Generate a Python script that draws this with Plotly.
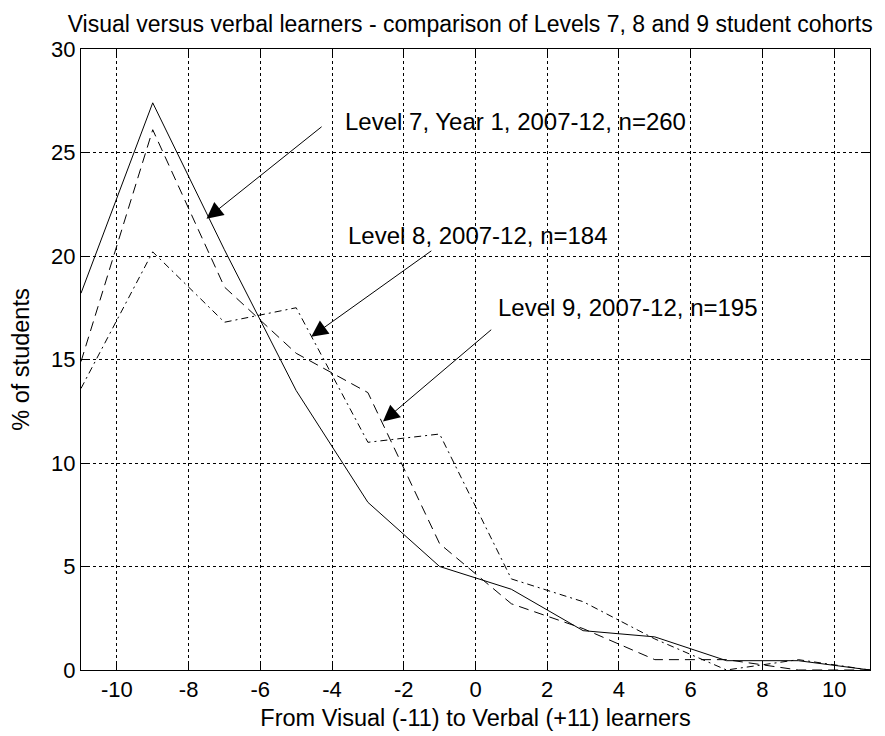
import plotly.graph_objects as go

# learning style score (odd bins) and % of students per cohort
scores = [-11, -9, -7, -5, -3, -1, 1, 3, 5, 7, 9, 11]
level7 = [18.2, 27.4, 20.3, 13.5, 8.1, 5.0, 3.9, 1.9, 1.6, 0.45, 0.45, 0.0]
level8 = [14.9, 26.1, 18.5, 15.3, 13.4, 6.1, 3.2, 2.0, 0.5, 0.5, 0.0, 0.0]
level9 = [13.6, 20.2, 16.8, 17.5, 11.0, 11.4, 4.4, 3.3, 1.5, 0.0, 0.5, 0.0]

x_ticks = [-10, -8, -6, -4, -2, 0, 2, 4, 6, 8, 10]
x_ticktext = ["-10", "-8", "-6", "-4", "-2", "0", "2", "4", "6", "8", "10"]
y_ticks = [0, 5, 10, 15, 20, 25, 30]

labels = [
    "Level 7, Year 1, 2007-12, n=260",
    "Level 8, 2007-12, n=184",
    "Level 9, 2007-12, n=195",
]

FONT = "Liberation Sans, Arial, sans-serif"

fig = go.Figure()
for ys, dash in [(level7, "solid"), (level8, "10px,6px"), (level9, "7px,4px,2px,4px")]:
    fig.add_trace(go.Scatter(
        x=scores, y=ys, mode="lines",
        line=dict(color="black", width=1, dash=dash),
        showlegend=False,
    ))

# arrows: (head x, head y, tail x, tail y)
arrows = [(-7.5, 21.8, -4.25, 26.3), (-4.58, 16.1, -1.19, 20.3), (-2.58, 12.0, 0.48, 16.5)]
# label anchor (left x, centre y)
label_pos = [(-3.7, 26.5), (-3.62, 21.0), (0.58, 17.5)]

for (hx, hy, tx, ty) in arrows:
    fig.add_annotation(
        x=hx, y=hy, ax=tx, ay=ty, xref="x", yref="y", axref="x", ayref="y",
        text="", showarrow=True, arrowhead=2, arrowsize=3.3, arrowwidth=1,
        arrowcolor="black",
    )
for text, (lx, ly) in zip(labels, label_pos):
    fig.add_annotation(
        x=lx, y=ly, xref="x", yref="y", text=text, showarrow=False,
        xanchor="left", yanchor="middle", font=dict(size=24, color="black"),
    )

axis_style = dict(
    showline=True, linecolor="black", linewidth=1, mirror="ticks",
    ticks="inside", ticklen=7, tickcolor="black",
    showgrid=True, gridcolor="black", gridwidth=1, griddash="dot",
    zeroline=False, tickfont=dict(size=22, color="black"), automargin=False,
)
fig.update_xaxes(
    range=[-11, 11], tickvals=x_ticks, ticktext=x_ticktext, **axis_style,
    title=dict(text="From Visual (-11) to Verbal (+11) learners", font=dict(size=23.5, color="black"), standoff=8),
)
fig.update_yaxes(
    range=[0, 30], tickvals=y_ticks, **axis_style,
    title=dict(text="% of students", font=dict(size=23.5, color="black"), standoff=14),
)

# page body adds 8px, so the figure is 8px smaller than the window
fig.update_layout(
    width=877, height=728,
    margin=dict(l=73, r=15, t=41, b=66),
    paper_bgcolor="white", plot_bgcolor="white",
    font=dict(family=FONT, color="black"),
    title=dict(
        text="Visual versus verbal learners - comparison of Levels 7, 8 and 9 student cohorts",
        x=0.527, xanchor="center", y=0.978, yanchor="middle", font=dict(size=23, color="black"),
    ),
)

fig.write_html("out.html")
